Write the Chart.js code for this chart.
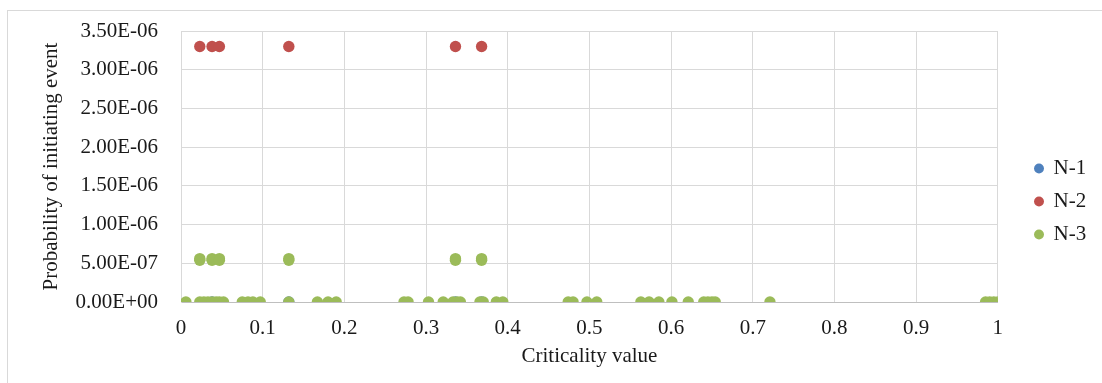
<!DOCTYPE html>
<html><head><meta charset="utf-8">
<script src="https://cdn.jsdelivr.net/npm/chart.js@4/dist/chart.umd.min.js"></script>
<style>
html,body{margin:0;padding:0;background:#fff;overflow:hidden;}
#wrap{position:relative;width:1102px;height:383px;overflow:hidden;}
#frame{position:absolute;left:7px;top:10px;width:1200px;height:400px;border:1px solid #d9d9d9;pointer-events:none;}
canvas{position:absolute;left:0;top:0;}
</style></head>
<body>
<div id="wrap"><canvas id="c" width="1102" height="383"></canvas><div id="frame"></div></div>
<script>
const seriesNames = ["N-1", "N-2", "N-3"];
const xTickLabels = ["0","0.1","0.2","0.3","0.4","0.5","0.6","0.7","0.8","0.9","1"];
const yTickLabels = ["0.00E+00","5.00E-07","1.00E-06","1.50E-06","2.00E-06","2.50E-06","3.00E-06","3.50E-06"];

// N-1 (hidden under N-3 markers)
const n1X = [0.038, 0.132, 0.336, 0.368];
const n1Y = [0, 0, 0, 0];
// N-2
const n2X = [0.023, 0.038, 0.047, 0.132, 0.336, 0.368];
const n2Y = [3.30e-6, 3.30e-6, 3.30e-6, 3.30e-6, 3.30e-6, 3.30e-6];
// N-3
const n3X = [0.023, 0.038, 0.047, 0.132, 0.336, 0.368,
             0.023, 0.038, 0.047, 0.132, 0.336, 0.368,
             0.006, 0.023, 0.028, 0.033, 0.038, 0.043, 0.047, 0.052, 0.075, 0.082, 0.088, 0.097,
             0.132, 0.167, 0.180, 0.190, 0.273, 0.278, 0.303, 0.321, 0.333, 0.338, 0.342,
             0.366, 0.370, 0.386, 0.394, 0.474, 0.480, 0.497, 0.509, 0.563, 0.573, 0.585,
             0.601, 0.621, 0.640, 0.645, 0.650, 0.654, 0.721, 0.985, 0.990, 0.995, 1.0];
const n3Y = [5.6e-7, 5.6e-7, 5.6e-7, 5.6e-7, 5.6e-7, 5.6e-7,
             5.4e-7, 5.4e-7, 5.4e-7, 5.4e-7, 5.4e-7, 5.4e-7,
             0,0,0,0,0,0,0,0,0,0,0,0,
             0,0,0,0,0,0,0,0,0,0,0,
             0,0,0,0,0,0,0,0,0,0,0,
             0,0,0,0,0,0,0,0,0,0,0];

const colors = ["#4F81BD", "#C0504D", "#9BBB59"];
const toPts = (xs, ys) => xs.map((x, i) => ({x: x, y: ys[i]}));
const FONT = "'Liberation Serif', 'Times New Roman', serif";
const TXT = "#1a1a1a";

const legendShift = {
  id: 'legendShift',
  afterLayout(chart) {
    const lg = chart.legend;
    if (lg) {
      const dx = 1023 - lg.left;
      lg.left += dx; lg.right += dx; lg.top += 0; lg.bottom += 0;
    }
  }
};

new Chart(document.getElementById('c'), {
  type: 'scatter',
  data: {
    datasets: [
      {label: seriesNames[0], data: toPts(n1X, n1Y), backgroundColor: colors[0], borderColor: colors[0], order: 3},
      {label: seriesNames[1], data: toPts(n2X, n2Y), backgroundColor: colors[1], borderColor: colors[1], order: 2},
      {label: seriesNames[2], data: toPts(n3X, n3Y), backgroundColor: colors[2], borderColor: colors[2], order: 1}
    ]
  },
  options: {
    responsive: false,
    animation: false,
    events: [],
    elements: {point: {radius: 5.7, borderWidth: 0, hoverRadius: 5.7}},
    layout: {padding: {left: 36, top: 31, bottom: 11, right: 31}},
    plugins: {
      tooltip: {enabled: false},
      legend: {
        position: 'right',
        labels: {
          usePointStyle: true,
          pointStyle: 'circle',
          boxWidth: 8,
          boxHeight: 7,
          padding: 12,
          color: TXT,
          font: {family: FONT, size: 21},
          sort: (a, b) => a.datasetIndex - b.datasetIndex
        }
      }
    },
    scales: {
      x: {
        type: 'linear', min: 0, max: 1,
        ticks: {stepSize: 0.1, color: TXT, font: {family: FONT, size: 21}, padding: 14,
                callback: (v, i) => xTickLabels[i]},
        grid: {color: '#d9d9d9', drawTicks: false},
        border: {color: '#bfbfbf'},
        title: {display: true, text: 'Criticality value', color: TXT, font: {family: FONT, size: 21}, padding: {top: 0, bottom: 3}},
        afterFit: s => { s.height = 70; s.paddingLeft = 8; s.paddingRight = 8; }
      },
      y: {
        min: 0, max: 3.5e-6,
        ticks: {stepSize: 5e-7, color: TXT, font: {family: FONT, size: 21}, padding: 23,
                callback: (v, i) => yTickLabels[i]},
        grid: {color: '#d9d9d9', drawTicks: false},
        border: {color: '#d9d9d9'},
        title: {display: true, text: 'Probability of initiating event', color: TXT, font: {family: FONT, size: 21}, padding: {top: 3, bottom: 0}},
        afterFit: s => { s.width = 145; s.paddingTop = 13; s.paddingBottom = 13; }
      }
    }
  },
  plugins: [legendShift]
});
</script>
</body></html>
